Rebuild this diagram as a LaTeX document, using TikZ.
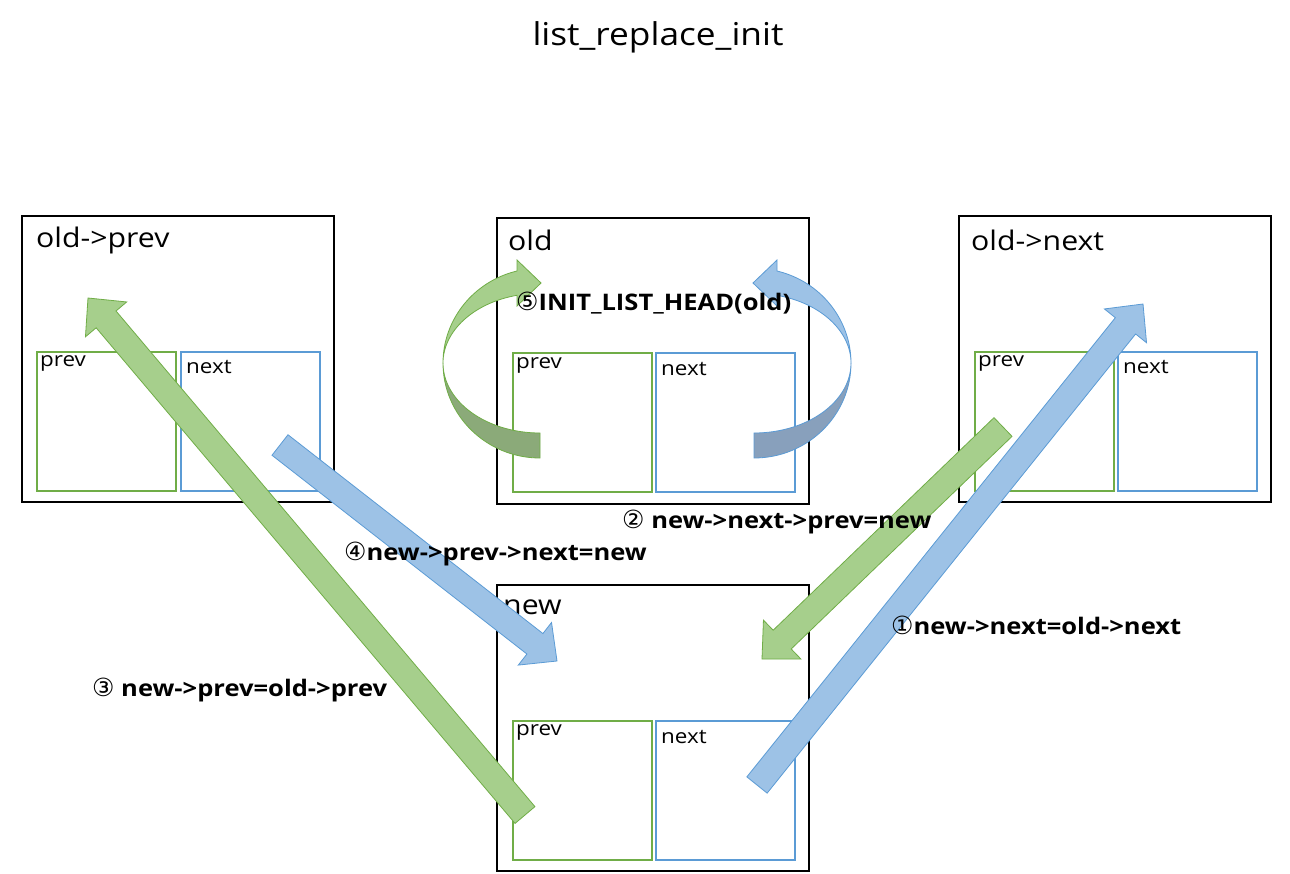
\documentclass[tikz,border=0pt]{standalone}
\usepackage{fontspec}
\setmainfont{Open Sans}[FakeStretch=1.12]
\newfontfamily\circfont{DejaVu Sans}
\usetikzlibrary{calc}

\definecolor{fieldgreen}{RGB}{112,173,71}
\definecolor{fieldblue}{RGB}{91,155,213}
\definecolor{arrowgreen}{RGB}{166,207,140}
\definecolor{arrowblue}{RGB}{157,194,230}
\definecolor{backgreen}{RGB}{139,170,121}
\definecolor{backblue}{RGB}{136,160,188}

\tikzset{
  structbox/.style={draw=black, line width=1.5pt, minimum width=312pt, minimum height=286pt,
    inner sep=0pt, outer sep=0pt, anchor=north west},
  prevfield/.style={draw=fieldgreen, line width=1.5pt, minimum width=139pt, minimum height=139pt,
    inner sep=0pt, outer sep=0pt, anchor=north west},
  nextfield/.style={prevfield, draw=fieldblue},
  titletext/.style={font=\fontsize{31.5}{36}\selectfont, inner sep=0pt},
  nametext/.style={font=\fontsize{27}{32}\selectfont, inner sep=0pt, anchor=west},
  fieldtext/.style={font=\fontsize{20}{24}\selectfont, inner sep=0pt, anchor=west},
  steptext/.style={font=\fontsize{22.8}{26}\selectfont\bfseries, inner sep=0pt, anchor=west},
  greenarrow/.style={fill=arrowgreen, draw=fieldgreen, line width=0.8pt, line join=miter},
  bluearrow/.style={fill=arrowblue, draw=fieldblue, line width=0.8pt, line join=miter},
}

% block arrow from #2 (tail) to #3 (tip), style #1
\newcommand\blockarrow[3]{%
  \coordinate (ba-base) at ($(#3)!28pt!(#2)$);
  \path[#1] ($(#2)!13pt!90:(#3)$) -- ($(ba-base)!13pt!90:(#3)$) -- ($(ba-base)!27pt!90:(#3)$)
    -- (#3) -- ($(ba-base)!27pt!-90:(#3)$) -- ($(ba-base)!13pt!-90:(#3)$)
    -- ($(#2)!13pt!-90:(#3)$) -- cycle;}

\newcommand\circnum[1]{{\circfont\mdseries\fontsize{25}{26}\selectfont #1}}

\begin{document}
\begin{tikzpicture}[x=1pt, y=-1pt]
  \useasboundingbox[fill=white] (0,0) rectangle (1290,873);

  % title
  \node[titletext] (title) at (658,37) {list\_replace\_init};

  % list_head structures
  \node[structbox] (oprev) at (22,216) {};
  \node[structbox] (old)   at (497,218) {};
  \node[structbox] (onext) at (959,216) {};
  \node[structbox] (new)   at (497,585) {};

  \node[prevfield] (oprev-p) at (37,352) {};
  \node[nextfield] (oprev-n) at (181,352) {};
  \node[prevfield] (old-p)   at (513,353) {};
  \node[nextfield] (old-n)   at (656,353) {};
  \node[prevfield] (onext-p) at (975,352) {};
  \node[nextfield] (onext-n) at (1118,352) {};
  \node[prevfield] (new-p)   at (513,721) {};
  \node[nextfield] (new-n)   at (656,721) {};

  % structure names
  \node[nametext] (oprev-t) at (36,240) {old->prev};
  \node[nametext] (old-t)   at (508,240) {old};
  \node[nametext] (onext-t) at (971,240) {old->next};
  \node[nametext] (new-t)   at (503,607) {new};

  % field names
  \node[fieldtext] at (40,363) {prev};
  \node[fieldtext] at (186,367) {next};
  \node[fieldtext] at (516,365) {prev};
  \node[fieldtext] at (661,369) {next};
  \node[fieldtext] at (978,363) {prev};
  \node[fieldtext] at (1123,367) {next};
  \node[fieldtext] at (516,732) {prev};
  \node[fieldtext] at (661,737) {next};

  % INIT_LIST_HEAD(old): old points back to itself
  \path[fill=backgreen, draw=fieldgreen, line width=0.8pt]
    (443,363) arc[start angle=180, end angle=270, x radius=97pt, y radius=95pt]
    -- (540,433) arc[start angle=270, end angle=180, x radius=97pt, y radius=70pt] -- cycle;
  \path[greenarrow]
    (517,271) arc[start angle=103.7, end angle=180, x radius=97pt, y radius=95pt]
    arc[start angle=180, end angle=103.7, x radius=97pt, y radius=70pt]
    -- (517,306) -- (541,283) -- (517,260) -- cycle;

  \path[fill=backblue, draw=fieldblue, line width=0.8pt]
    (851,363) arc[start angle=0, end angle=-90, x radius=97pt, y radius=95pt]
    -- (754,433) arc[start angle=-90, end angle=0, x radius=97pt, y radius=70pt] -- cycle;
  \path[bluearrow]
    (777,271) arc[start angle=76.3, end angle=0, x radius=97pt, y radius=95pt]
    arc[start angle=0, end angle=76.3, x radius=97pt, y radius=70pt]
    -- (777,306) -- (753,283) -- (777,260) -- cycle;

  % pointer updates
  \coordinate (a3-tail) at (525,815);
  \coordinate (a3-tip)  at (88,298);
  \coordinate (a4-tail) at (280,445);
  \coordinate (a4-tip)  at (557,661);
  \coordinate (a2-tail) at (1003,427);
  \coordinate (a2-tip)  at (762,659);
  \coordinate (a1-tail) at (757,785);
  \coordinate (a1-tip)  at (1143,304);

  \blockarrow{greenarrow}{a3-tail}{a3-tip}
  \blockarrow{bluearrow}{a4-tail}{a4-tip}
  \blockarrow{greenarrow}{a2-tail}{a2-tip}
  \blockarrow{bluearrow}{a1-tail}{a1-tip}

  % step labels
  \node[steptext] (s5) at (516,303) {\circnum{⑤}INIT\_LIST\_HEAD(old)};
  \node[steptext] (s2) at (622,522) {\circnum{②} new->next->prev=new};
  \node[steptext] (s4) at (344,554) {\circnum{④}new->prev->next=new};
  \node[steptext] (s1) at (891,625) {\circnum{①}new->next=old->next};
  \node[steptext] (s3) at (92,690) {\circnum{③} new->prev=old->prev};
\end{tikzpicture}
\end{document}
